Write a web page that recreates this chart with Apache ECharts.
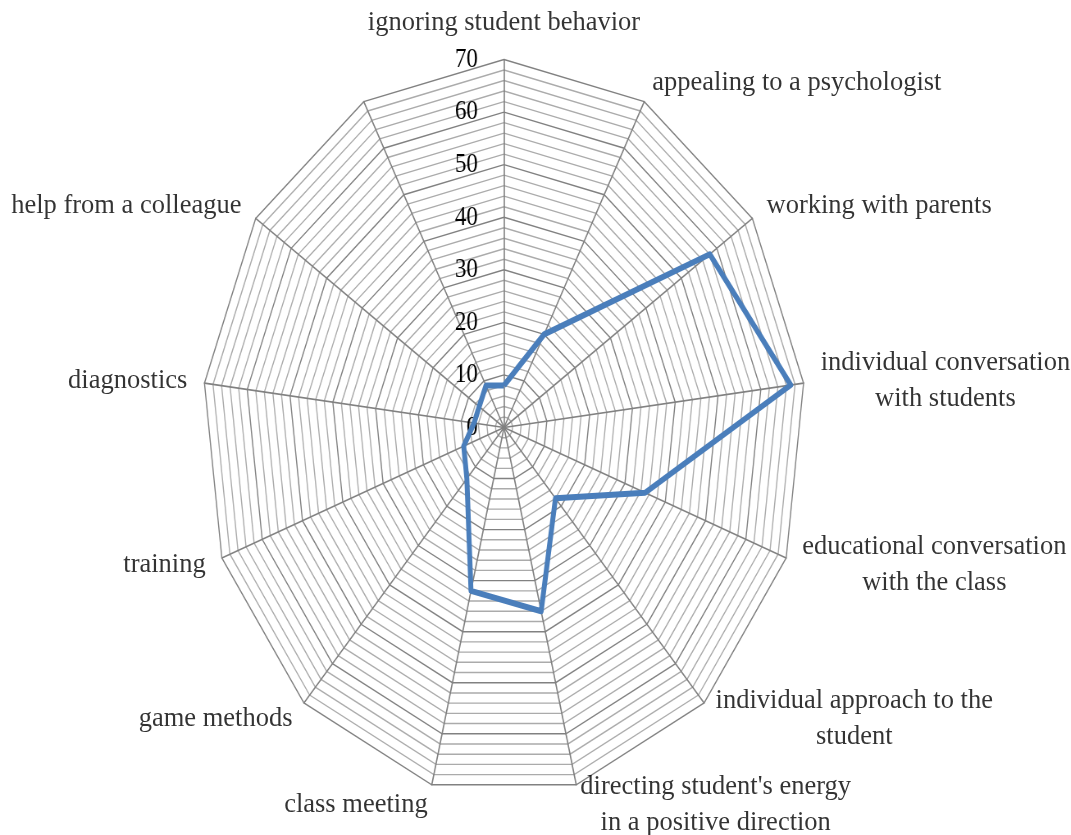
<!DOCTYPE html>
<html>
<head>
<meta charset="utf-8">
<script src="https://cdn.jsdelivr.net/npm/echarts@6/dist/echarts.min.js"></script>
<style>
html,body{margin:0;padding:0;background:#ffffff;overflow:hidden;width:1071px;height:835px;}
#radar{position:absolute;left:0;top:0;height:835px;transform-origin:0 0;}
#names{position:absolute;left:0;top:0;width:1071px;height:835px;}
</style>
</head>
<body>
<div id="radar"></div>
<div id="names"></div>
<script>
// ---- data (clockwise from the top axis) ----
const categories = [
  'ignoring student behavior',
  'appealing to a psychologist',
  'working with parents',
  'individual conversation\nwith students',
  'educational conversation\nwith the class',
  'individual approach to the\nstudent',
  "directing student's energy\nin a positive direction",
  'class meeting',
  'game methods',
  'training',
  'diagnostics',
  'help from a colleague',
  ''
];
const values = [8, 20, 58, 67, 35, 18, 36, 32, 13, 10, 7, 7, 9];
const tickLabels = [0, 10, 20, 30, 40, 50, 60, 70];
const axisMax = 70;
const axisStep = 2;

// ---- layout / style ----
const CX = 504, CY = 427.5, R = 368, SX = 0.82;
const FONT = 'Liberation Serif';
const TEXT = '#000000';
const GRID_DARK = '#818181', GRID_LIGHT = '#ababab';
const LINE_BLUE = '#4a7ebb';

const n = categories.length;
// ECharts radar runs counter-clockwise; reorder so the picture runs clockwise
const order = categories.map((_, i) => (n - i) % n);

const indicator = order.map((k, j) => {
  const ind = { name: categories[k], min: 0, max: axisMax };
  if (j === 0) {
    ind.axisLabel = {
      show: true,
      margin: 32,
      fontSize: 28,
      fontFamily: FONT,
      color: TEXT,
      formatter: v => (tickLabels.indexOf(Math.round(v)) >= 0 && Math.abs(v - Math.round(v)) < 1e-6) ? String(Math.round(v)) : ''
    };
  }
  return ind;
});

const ratio = 10 / axisStep;
const splitColors = [];
for (let i = 0; i < ratio; i++) splitColors.push(i === 0 ? GRID_DARK : GRID_LIGHT);

const radarDiv = document.getElementById('radar');
radarDiv.style.width = (1071 / SX) + 'px';
radarDiv.style.transform = 'scaleX(' + SX + ')';

const chartA = echarts.init(radarDiv, null, { renderer: 'canvas' });
chartA.setOption({
  animation: false,
  backgroundColor: 'transparent',
  radar: {
    center: [CX / SX, CY],
    radius: R,
    startAngle: 90,
    shape: 'polygon',
    splitNumber: axisMax / axisStep,
    indicator: indicator,
    axisName: { show: false },
    axisLine: { show: true, lineStyle: { color: GRID_DARK, width: 1.6 } },
    axisTick: { show: false },
    axisLabel: { show: false },
    splitLine: { show: true, lineStyle: { color: splitColors, width: 1.4 } },
    splitArea: { show: false }
  },
  series: [{
    type: 'radar',
    symbol: 'none',
    silent: true,
    lineStyle: { color: LINE_BLUE, width: 6 },
    itemStyle: { color: LINE_BLUE },
    data: [{ value: order.map(k => values[k]) }]
  }]
});

// ---- category names, drawn unstretched on a matching cartesian frame ----
const labelR = 74;
const nameData = categories.map((name, i) => {
  const a = i * 2 * Math.PI / n;
  const s = Math.sin(a), c = Math.cos(a);
  const align = s > 0.1 ? 'left' : (s < -0.1 ? 'right' : 'center');
  const vAlign = c > 0.9 ? 'bottom' : 'middle';
  return { value: [labelR * s, labelR * c], name: name, label: { align: align, verticalAlign: vAlign } };
});

const chartB = echarts.init(document.getElementById('names'), null, { renderer: 'canvas' });
chartB.setOption({
  animation: false,
  backgroundColor: 'transparent',
  grid: { left: CX - R * SX, top: CY - R, width: 2 * R * SX, height: 2 * R, containLabel: false },
  xAxis: { type: 'value', min: -axisMax, max: axisMax, show: false },
  yAxis: { type: 'value', min: -axisMax, max: axisMax, show: false },
  series: [{
    type: 'scatter',
    symbolSize: 0,
    silent: true,
    clip: false,
    data: nameData,
    labelLayout: { hideOverlap: false },
    label: {
      show: true,
      position: 'inside',
      color: TEXT,
      textBorderWidth: 0,
      formatter: p => {
        const lines = p.name.split('\n');
        const st = lines.length > 1 ? 'n' : 's';
        return lines.map(t => '{' + st + '|' + t + '}').join('\n');
      },
      rich: {
        n: { fontSize: 26.5, fontFamily: FONT, color: TEXT, textBorderWidth: 0, align: 'center', lineHeight: 36 },
        s: { fontSize: 26.5, fontFamily: FONT, color: TEXT, textBorderWidth: 0, align: 'center', lineHeight: 30 }
      }
    }
  }]
});
</script>
</body>
</html>
